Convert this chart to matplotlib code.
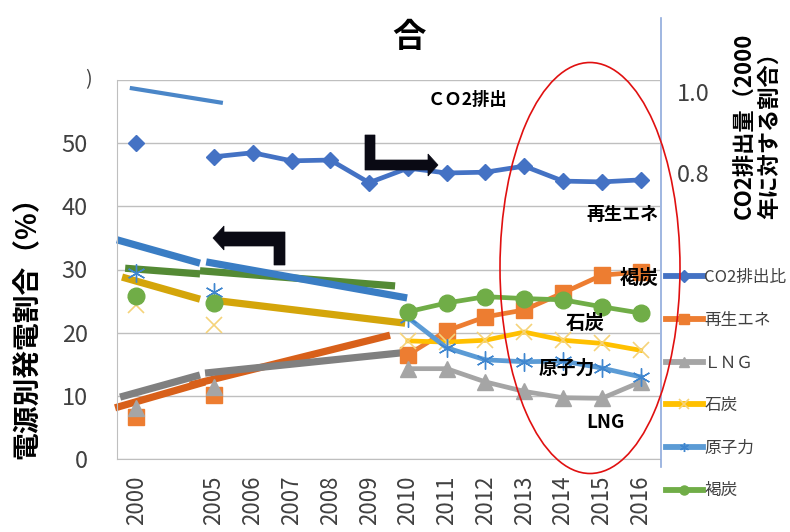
import numpy as np
import matplotlib
matplotlib.use('Agg')
import matplotlib.pyplot as plt
from matplotlib.patches import Polygon, Ellipse
from matplotlib.lines import Line2D

plt.rcParams['font.family'] = ['Noto Sans CJK JP', 'DejaVu Sans']

nan = np.nan
# ---------------- data ----------------
categories = ['2000', '', '2005', '2006', '2007', '2008', '2009', '2010',
              '2011', '2012', '2013', '2014', '2015', '2016']

co2_ratio = [0.874, nan, 0.840, 0.850, 0.830, 0.832, 0.776, 0.812,
             0.800, 0.802, 0.817, 0.780, 0.778, 0.783]
renewables = [6.6, nan, 10.1, nan, nan, nan, nan, 16.5, 20.3, 22.5, 23.6, 26.3, 29.1, 29.6]
lng = [8.0, nan, 11.4, nan, nan, nan, nan, 14.3, 14.3, 12.2, 10.7, 9.7, 9.6, 12.2]
coal = [24.4, nan, 21.2, nan, nan, nan, nan, 18.7, 18.5, 18.8, 20.1, 18.8, 18.3, 17.2]
nuclear = [29.5, nan, 26.4, nan, nan, nan, nan, 22.4, 17.6, 15.7, 15.4, 15.5, 14.4, 13.0]
lignite = [25.8, nan, 24.7, nan, nan, nan, nan, 23.3, 24.7, 25.7, 25.4, 25.2, 24.1, 23.1]

series_names = ['CO2排出比', '再生エネ', 'ＬＮＧ', '石炭', '原子力', '褐炭']

# hand-drawn trend segments (category position, value)
trend_co2_x = [[-0.17, 2.23]]
trend_co2_y = [[1.010, 0.973]]
trend_nuclear_x = [[-0.5, 1.64], [1.80, 6.98]]
trend_nuclear_y = [[34.7, 31.0], [31.2, 25.5]]
trend_lignite_x = [[-0.29, 1.64], [1.64, 6.67]]
trend_lignite_y = [[30.2, 29.3], [29.8, 27.4]]
trend_coal_x = [[-0.37, 1.64], [1.90, 6.93]]
trend_coal_y = [[28.8, 25.3], [25.2, 21.5]]
trend_ren_x = [[-0.55, 1.77], [1.38, 6.54]]
trend_ren_y = [[8.1, 12.2], [11.7, 19.6]]
trend_lng_x = [[-0.42, 1.64], [1.77, 6.98]]
trend_lng_y = [[9.8, 13.3], [13.6, 16.9]]

# ---------------- figure ----------------
W, H = 790, 532
fig = plt.figure(figsize=(W / 100, H / 100), dpi=100)

def fx(px):
    return px / W

def fy(py):
    return 1 - py / H

ax = fig.add_axes([fx(117), fy(459), (660 - 117) / W, (459 - 80) / H])
ax2 = ax.twinx()

x = np.arange(len(categories))
ax.set_xlim(-0.5, len(categories) - 0.5)
ax.set_ylim(0, 60)
ax2.set_ylim(0.0938, 1.0296)

c_co2 = '#4472c4'
c_ren = '#ed7d31'
c_lng = '#a5a5a5'
c_coal = '#ffc000'
c_nuc = '#5b9bd5'
c_lig = '#70ad47'

lw = 3.4
# trend segments
def draw_trend(a, xs, ys, color, w):
    for sx, sy in zip(xs, ys):
        a.plot(sx, sy, color=color, lw=w, solid_capstyle='butt', zorder=2, clip_on=False)

draw_trend(ax, trend_ren_x, trend_ren_y, '#d8601a', 5.2)
draw_trend(ax, trend_lng_x, trend_lng_y, '#808080', 5.2)
draw_trend(ax, trend_coal_x, trend_coal_y, '#d4a50a', 5.2)
draw_trend(ax, trend_lignite_x, trend_lignite_y, '#548a35', 5.2)
draw_trend(ax, trend_nuclear_x, trend_nuclear_y, '#3a7dc4', 5.2)
draw_trend(ax2, trend_co2_x, trend_co2_y, '#4a86c8', 3.0)

h_ren, = ax.plot(x, renewables, color=c_ren, lw=lw, marker='s', ms=11, zorder=3)
h_lng, = ax.plot(x, lng, color=c_lng, lw=lw, marker='^', ms=11, zorder=3.1)
h_coal, = ax.plot(x, coal, color=c_coal, lw=lw, marker='x', ms=12, mew=1.2,
                  mec='#f5d37a', zorder=3.2)
h_nuc, = ax.plot(x, nuclear, color=c_nuc, lw=lw, marker=(6, 2, 0), ms=13, mew=1.0,
                 mec='#3f86cf', zorder=3.3)
h_lig, = ax.plot(x, lignite, color=c_lig, lw=lw, marker='o', ms=12, zorder=3.4)
h_co2, = ax2.plot(x, co2_ratio, color=c_co2, lw=lw, marker='D', ms=8.5, zorder=3)

# axes styling
ax.set_xticks([i for i, c in enumerate(categories) if c])
ax.set_xticklabels([c for c in categories if c], rotation=90, fontsize=16, color='#404040')
ax.set_yticks([0, 10, 20, 30, 40, 50])
ax.tick_params(axis='y', length=0, pad=21, labelsize=17, labelcolor='#404040')
ax.tick_params(axis='x', length=0, pad=12)
ax.yaxis.grid(True, color='#bfbfbf', lw=1.0)
ax.set_axisbelow(True)
for s in ['top', 'right']:
    ax.spines[s].set_visible(False)
for s in ['left', 'bottom']:
    ax.spines[s].set_color('#bfbfbf')
# top gridline at 60
ax.axhline(60, color='#bfbfbf', lw=1.0, zorder=0.5)

ax2.set_yticks([0.8, 1.0])
ax2.set_yticklabels(['0.8', '1.0'])
ax2.tick_params(axis='y', length=0, pad=12, labelsize=17, labelcolor='#404040')
for s in ax2.spines.values():
    s.set_visible(False)

# right axis line (extends beyond plot)
fig.add_artist(Line2D([fx(661), fx(661)], [fy(18), fy(467)], color='#8faadc', lw=1.2,
                      transform=fig.transFigure))

# legend
leg = fig.legend([h_co2, h_ren, h_lng, h_coal, h_nuc, h_lig], series_names,
                 loc='upper left', bbox_to_anchor=(fx(666), fy(269)),
                 frameon=False, fontsize=12, handlelength=2.2, handletextpad=0.1,
                 labelspacing=1.54, borderpad=0, borderaxespad=0)
for t in leg.get_texts():
    t.set_color('#404040')
for hl in leg.legend_handles:
    hl.set_markersize(6.5)
    hl.set_linewidth(4.2)

# texts
fig.text(fx(409), fy(37), '合', fontsize=24, weight='bold', ha='center', va='center')
fig.text(fx(28), fy(321), '電源別発電割合（%）', rotation=90, fontsize=20, weight='bold',
         ha='center', va='center')
fig.text(fx(757), fy(219), 'CO2排出量（2000\n年に対する割合）', rotation=90, fontsize=16,
         weight='bold', ha='center', va='bottom', multialignment='left', linespacing=1.15)
fig.text(fx(88), fy(80), ')', fontsize=14, color='#404040', ha='center', va='center')

fig.text(fx(467), fy(100), 'ＣＯ2排出', fontsize=12.5, weight='bold', ha='center', va='center')
fig.text(fx(622), fy(215), '再生エネ', fontsize=13, weight='bold', ha='center', va='center')
fig.text(fx(639), fy(278), '褐炭', fontsize=14, weight='bold', ha='center', va='center')
fig.text(fx(585), fy(323), '石炭', fontsize=14, weight='bold', ha='center', va='center')
fig.text(fx(567), fy(368), '原子力', fontsize=13.5, weight='bold', ha='center', va='center')
fig.text(fx(605), fy(423), 'LNG', fontsize=13.5, weight='bold', ha='center', va='center')

# black L-arrows
def poly(pts, color='#0a0a14'):
    p = Polygon([(fx(a), fy(b)) for a, b in pts], closed=True, transform=fig.transFigure,
                facecolor=color, edgecolor=color, lw=0.5, zorder=5)
    fig.add_artist(p)

# right-pointing arrow
poly([(365, 135), (375, 135), (375, 160), (428, 160), (428, 154), (438, 165),
      (428, 176), (428, 170), (365, 170)])
# left-pointing arrow
poly([(285, 232), (285, 265), (274, 265), (274, 246), (224, 246), (224, 250),
      (213, 238), (224, 226), (224, 232)])

# red ellipse
fig.add_artist(Ellipse((fx(590), fy(268)), 180 / W, 411 / H, transform=fig.transFigure,
                       facecolor='none', edgecolor='#e01010', lw=1.2, zorder=6))

fig.savefig('out.png', dpi=100)
